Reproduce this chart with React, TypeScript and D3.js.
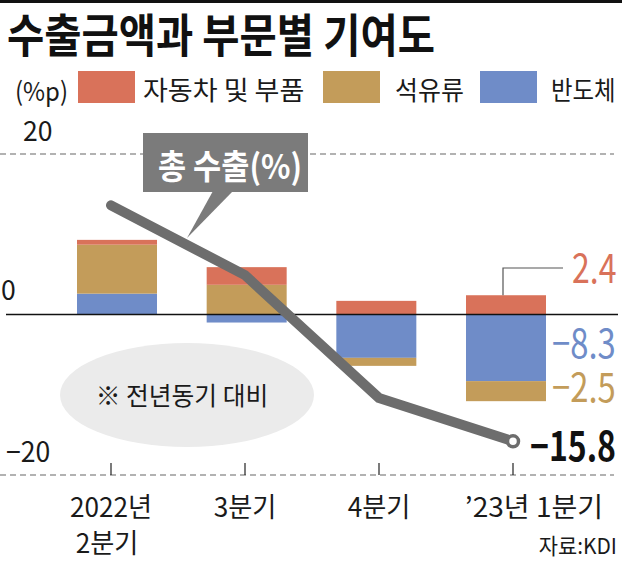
import * as d3 from "d3";

// 분기별 수출 증감률과 부문별 기여도 (%p)
const quarters = ["2022Q2", "2022Q3", "2022Q4", "2023Q1"];
const quarterLabels = [["2022년", "2분기"], ["3분기"], ["4분기"], ["’23년 1분기"]];
const autoParts = [0.6, 2.2, 1.7, 2.4];
const petroleum = [6.1, 3.7, -1.0, -2.5];
const semis = [2.6, -1.0, -5.4, -8.3];
const totalExports = [13.6, 4.9, -10.4, -15.8];
const yTicks = [20, 0, -20];

const seriesKeys = ["semi", "petro", "auto"];
const seriesNames: Record<string, string> = {
  auto: "자동차 및 부품",
  petro: "석유류",
  semi: "반도체",
};
const colors: Record<string, string> = {
  auto: "#d9725a",
  petro: "#c39c5a",
  semi: "#6f8cc8",
};

const W = 622;
const H = 562;
const FONT = "'Noto Sans CJK KR', 'Noto Sans', sans-serif";

const fmt = (v: number) => (v < 0 ? "−" + Math.abs(v).toFixed(1) : v.toFixed(1));

// 좁은 글꼴 느낌을 내기 위해 가로로 살짝 압축하는 텍스트
function T({
  x,
  y,
  children,
  size = 25,
  sx = 1,
  anchor = "start",
  weight = 400,
  fill = "#1a1a1a",
}: {
  x: number;
  y: number;
  children: React.ReactNode;
  size?: number;
  sx?: number;
  anchor?: "start" | "middle" | "end";
  weight?: number;
  fill?: string;
}) {
  return (
    <text
      transform={`translate(${x},${y}) scale(${sx},1)`}
      fontSize={size}
      fontWeight={weight}
      textAnchor={anchor}
      fill={fill}
      fontFamily={FONT}
    >
      {children}
    </text>
  );
}

export default function App() {
  const y = d3.scaleLinear().domain([-20, 20]).range([475, 154]);
  const xBar = d3.scalePoint<string>().domain(quarters).range([117, 506]);
  const xLine = d3.scalePoint<string>().domain(quarters).range([111, 513]);
  const barW = 80;

  const rows = quarters.map((q, i) => ({
    q,
    auto: autoParts[i],
    petro: petroleum[i],
    semi: semis[i],
  }));
  const stacked = d3
    .stack<(typeof rows)[0]>()
    .keys(seriesKeys)
    .offset(d3.stackOffsetDiverging)(rows);

  const line = d3
    .line<number>()
    .x((_, i) => xLine(quarters[i])!)
    .y((d) => y(d));

  const last = quarters.length - 1;
  const lastX = xLine(quarters[last])!;
  const lastBarX = xBar(quarters[last])!;
  const stackLast = (k: string) => stacked.find((s) => s.key === k)![last];

  // 범례 배치
  const legend = [
    { key: "auto", box: 78, text: 143, sx: 1.04 },
    { key: "petro", box: 323, text: 395, sx: 0.96 },
    { key: "semi", box: 480, text: 551, sx: 0.9 },
  ];

  return (
    <div>
      <style>{`body{margin:0}`}</style>
      <svg width={W} height={H} style={{ display: "block", background: "#fff" }}>
        <rect x={0} y={0} width={W} height={3} fill="#111" />

        {/* 제목 */}
        <T x={7} y={52} size={46} weight={700} sx={0.88} fill="#111">
          수출금액과 부문별 기여도
        </T>

        {/* 범례 */}
        <T x={15} y={101} size={26} sx={0.92}>
          (%p)
        </T>
        {legend.map((l) => (
          <g key={l.key}>
            <rect x={l.box} y={71} width={57} height={32} fill={colors[l.key]} />
            <T x={l.text} y={100} size={26} sx={l.sx}>
              {seriesNames[l.key]}
            </T>
          </g>
        ))}

        {/* 눈금선 */}
        {yTicks
          .filter((t) => t !== 0)
          .map((t) => (
            <line
              key={t}
              x1={0}
              x2={614}
              y1={y(t)}
              y2={y(t)}
              stroke="#666"
              strokeWidth={1.2}
              strokeDasharray="6 4"
            />
          ))}
        <T x={23} y={141} size={28} sx={0.95}>
          20
        </T>
        <T x={1} y={300} size={28} sx={0.95}>
          0
        </T>
        <T x={6} y={462} size={28} sx={0.95}>
          −20
        </T>

        {/* 메모 타원 */}
        <ellipse cx={187} cy={395} rx={127} ry={52} fill="#ebebeb" />
        <T x={182} y={405} size={25} sx={0.99} anchor="middle">
          ※ 전년동기 대비
        </T>

        {/* 누적 막대 */}
        {stacked.map((s) =>
          s.map((d, i) => (
            <rect
              key={s.key + i}
              x={xBar(quarters[i])! - barW / 2}
              width={barW}
              y={y(Math.max(d[0], d[1]))}
              height={Math.abs(y(d[0]) - y(d[1]))}
              fill={colors[s.key]}
            />
          ))
        )}

        <line x1={6} x2={618} y1={y(0)} y2={y(0)} stroke="#111" strokeWidth={1.5} />

        {/* x축 눈금과 라벨 */}
        {quarters.map((q, i) => (
          <g key={q}>
            <line
              x1={xLine(q)!}
              x2={xLine(q)!}
              y1={y(-20) - 12}
              y2={y(-20)}
              stroke="#222"
              strokeWidth={1.2}
            />
            {quarterLabels[i].map((t, j) => (
              <T
                key={j}
                x={i === last ? 534 : xLine(q)! - (j === 1 ? 4 : 0)}
                y={517 + j * 36}
                size={27}
                sx={i === last ? 1.04 : 0.97}
                anchor="middle"
              >
                {t}
              </T>
            ))}
          </g>
        ))}

        {/* 총 수출 선 */}
        <path
          d={line(totalExports) || ""}
          fill="none"
          stroke="#6d6d6d"
          strokeWidth={10}
          strokeLinecap="round"
          strokeLinejoin="round"
        />
        <circle
          cx={lastX}
          cy={y(totalExports[last])}
          r={5.5}
          fill="#fff"
          stroke="#6d6d6d"
          strokeWidth={3.5}
        />

        {/* 말풍선 */}
        <rect x={143} y={133} width={165} height={59} fill="#7b7b7b" />
        <path d="M213,191 L233,191 L187,238 Z" fill="#7b7b7b" />
        <T x={230} y={179} size={34} weight={700} sx={0.9} fill="#fff" anchor="middle">
          총 수출(%)
        </T>

        {/* 마지막 분기 값 */}
        <path
          d={`M${lastBarX - 3},${y(stackLast("auto")[1])} V268 H563`}
          fill="none"
          stroke="#555"
          strokeWidth={1.2}
        />
        <T x={572} y={283} size={40} sx={0.8} fill={colors.auto}>
          {fmt(autoParts[last])}
        </T>
        <T x={552} y={358} size={40} sx={0.82} fill={colors.semi}>
          {fmt(semis[last])}
        </T>
        <T x={552} y={402} size={40} sx={0.82} fill={colors.petro}>
          {fmt(petroleum[last])}
        </T>
        <T x={530} y={461} size={40} weight={700} sx={0.8} fill="#111">
          {fmt(totalExports[last])}
        </T>

        <T x={617} y={554} size={22} sx={0.95} anchor="end">
          자료:KDI
        </T>
      </svg>
    </div>
  );
}
